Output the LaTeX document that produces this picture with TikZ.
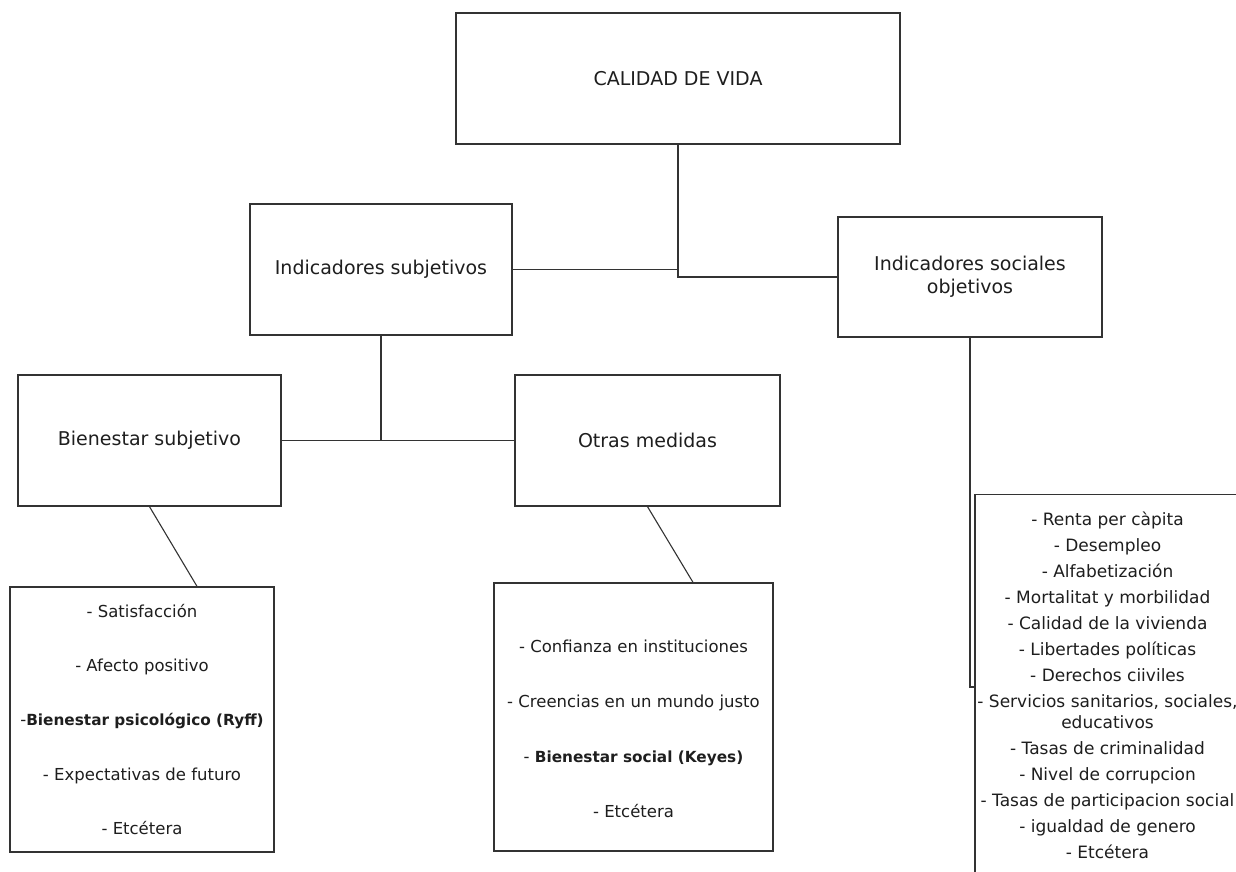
\documentclass[tikz,border=0pt]{standalone}
\usepackage{fontspec}
\setmainfont{DejaVu Sans}
\usetikzlibrary{calc}
\definecolor{boxgray}{HTML}{333333}
\definecolor{textgray}{HTML}{1E1E1E}
% bold entries are set a little smaller so they keep the width of the regular ones
\newcommand{\listbold}[1]{{\fontsize{15.3}{54.8}\selectfont\textbf{#1}}}
\begin{document}
\begin{tikzpicture}[x=1pt,y=-1pt,
  box/.style={draw=boxgray, line width=1.3pt, fill=white, inner sep=0pt,
    align=center, text=textgray, font=\fontsize{19}{23}\selectfont},
  listbox/.style={box, font=\fontsize{16.5}{54.3}\selectfont},
  listtext/.style={align=center, text=textgray, inner sep=0pt,
    font=\fontsize{16.5}{54.8}\selectfont},
  smalllist/.style={box, font=\fontsize{17}{21}\selectfont},
  link/.style={draw=boxgray, line width=1.1pt}
]
\useasboundingbox (0,0) rectangle (1236,872);
\clip (0,0) rectangle (1236,872);

% top level
\node[box, minimum width=444, minimum height=131] (cal) at (678,78.5) {CALIDAD DE VIDA};

% second level
\node[box, minimum width=262, minimum height=131] (subj) at (381,269.5) {Indicadores subjetivos};
\node[box, minimum width=264, minimum height=120] (soc) at (970,277) {Indicadores sociales\\objetivos};

% third level
\node[box, minimum width=263, minimum height=131] (bs) at (149.5,440.5) {Bienestar subjetivo};
\node[box, minimum width=265, minimum height=131] (om) at (647.5,440.5) {Otras medidas};

% lists
\node[listbox, minimum width=264, minimum height=265] (bslist) at (142,719.5)
  {- Satisfacción\\
   - Afecto positivo\\
   -\listbold{Bienestar psicológico (Ryff)}\\
   - Expectativas de futuro\\
   - Etcétera};
\node[box, minimum width=279, minimum height=268] (omlist) at (633.5,717) {};
\node[listtext] (omtext) at ($(omlist.center)+(0,12)$)
  {- Confianza en instituciones\\
   - Creencias en un mundo justo\\
   - \listbold{Bienestar social (Keyes)}\\
   - Etcétera};
\node[smalllist, minimum width=265, minimum height=382] (soclist) at (1107.5,685.5)
  {- Renta per càpita\\[5pt]
   - Desempleo\\[5pt]
   - Alfabetización\\[5pt]
   - Mortalitat y morbilidad\\[5pt]
   - Calidad de la vivienda\\[5pt]
   - Libertades políticas\\[5pt]
   - Derechos ciiviles\\[5pt]
   - Servicios sanitarios, sociales,\\
   educativos\\[5pt]
   - Tasas de criminalidad\\[5pt]
   - Nivel de corrupcion\\[5pt]
   - Tasas de participacion social\\[5pt]
   - igualdad de genero\\[5pt]
   - Etcétera};

% connectors
\draw[link] (cal.south) |- (soc.west);
\draw[link] (subj.east) -- (subj.east -| cal.south);
\draw[link] (subj.south) -- (subj.south |- bs.east);
\draw[link] (bs.east) -- (om.west);
\draw[link] (bs.south) -- ([xshift=55pt]bslist.north);
\draw[link] (om.south) -- ([xshift=59.5pt]omlist.north);
\coordinate (socbend) at (970,687);
\draw[link] (soc.south) -- (socbend) -- (socbend -| soclist.west);
\end{tikzpicture}
\end{document}
